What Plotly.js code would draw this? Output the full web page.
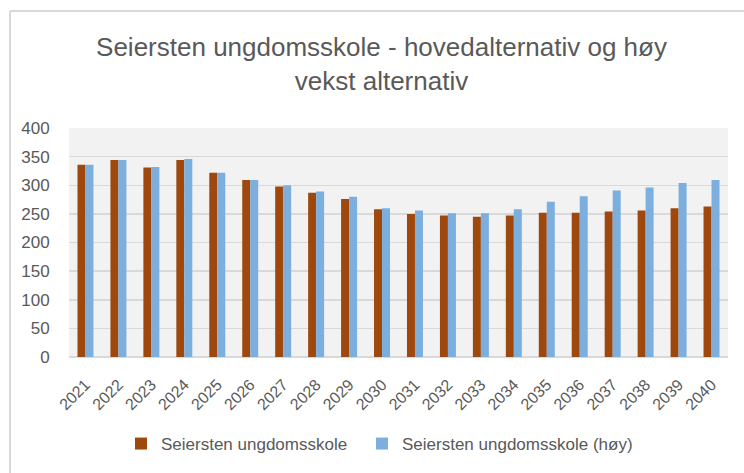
<!DOCTYPE html>
<html>
<head>
<meta charset="utf-8">
<script src="https://cdn.plot.ly/plotly-3.0.1.min.js"></script>
<style>html,body{margin:0;padding:0;background:#fff;}#chart{width:744px;height:473px;}</style>
</head>
<body>
<div id="chart"></div>
<script>
var years = ["2021","2022","2023","2024","2025","2026","2027","2028","2029","2030","2031","2032","2033","2034","2035","2036","2037","2038","2039","2040"];
var hoved = [336,344,331,344,322,309,298,287,276,258,250,247,245,247,252,252,254,256,260,263];
var hoy   = [336,344,332,346,322,309,300,289,280,260,256,251,251,258,271,281,291,296,304,309];
var seriesNames = ["Seiersten ungdomsskole","Seiersten ungdomsskole (høy)"];
var yTicks = [0,50,100,150,200,250,300,350,400];

var font = "Liberation Sans, Arial, sans-serif";
var data = [
  {type:"bar", x:years, y:hoved, name:seriesNames[0], marker:{color:"#9E480E"}, legend:"legend"},
  {type:"bar", x:years, y:hoy, name:seriesNames[1], marker:{color:"#7CAFDD"}, legend:"legend2"}
];
var L=69, R=728, T=128, B=357;
function px(x){return (x-L)/(R-L);}
function py(y){return (B-y)/(B-T);}
var legBase = {orientation:"h", xref:"container", xanchor:"left",
          y:1-444/473, yref:"container", yanchor:"middle",
          font:{size:17, color:"#595959"}, itemwidth:30, bgcolor:"rgba(0,0,0,0)"};
var leg1 = Object.assign({}, legBase, {x:(131-10)/744});
var leg2 = Object.assign({}, legBase, {x:(372-10)/744});
var layout = {
  width:744, height:473,
  margin:{l:L, r:744-R, t:T, b:473-B, pad:0},
  paper_bgcolor:"#ffffff",
  plot_bgcolor:"#F2F2F2",
  font:{family:font, color:"#595959"},
  title:{text:"Seiersten ungdomsskole - hovedalternativ og høy<br>vekst alternativ",
         font:{family:font, size:26, color:"#595959"},
         x:381.5/744, xref:"container", xanchor:"center",
         y:1-56/473, yref:"container", yanchor:"top"},
  barmode:"group", bargap:0.515, bargroupgap:0,
  xaxis:{type:"category", tickangle:-45, tickfont:{size:16, color:"#595959"},
         showgrid:false, ticks:"outside", ticklen:11, tickcolor:"rgba(0,0,0,0)",
         showline:false, automargin:false},
  yaxis:{range:[0,400], tickvals:yTicks, ticktext:yTicks.map(String),
         tickfont:{size:17, color:"#595959"}, gridcolor:"#D9D9D9", gridwidth:1.5,
         zeroline:true, zerolinecolor:"#D9D9D9", zerolinewidth:1.5,
         showline:false, ticks:"outside", ticklen:15, tickcolor:"rgba(0,0,0,0)", automargin:false},
  showlegend:true,
  legend:leg1,
  legend2:leg2,
  shapes:[
    {type:"line", xref:"paper", yref:"paper", x0:px(10), x1:px(744), y0:py(11), y1:py(11), line:{color:"#D9D9D9", width:2}},
    {type:"line", xref:"paper", yref:"paper", x0:px(10), x1:px(10), y0:py(11), y1:py(473), line:{color:"#D9D9D9", width:2}}
  ]
};
Plotly.newPlot("chart", data, layout, {displayModeBar:false, staticPlot:true});
</script>
</body>
</html>
